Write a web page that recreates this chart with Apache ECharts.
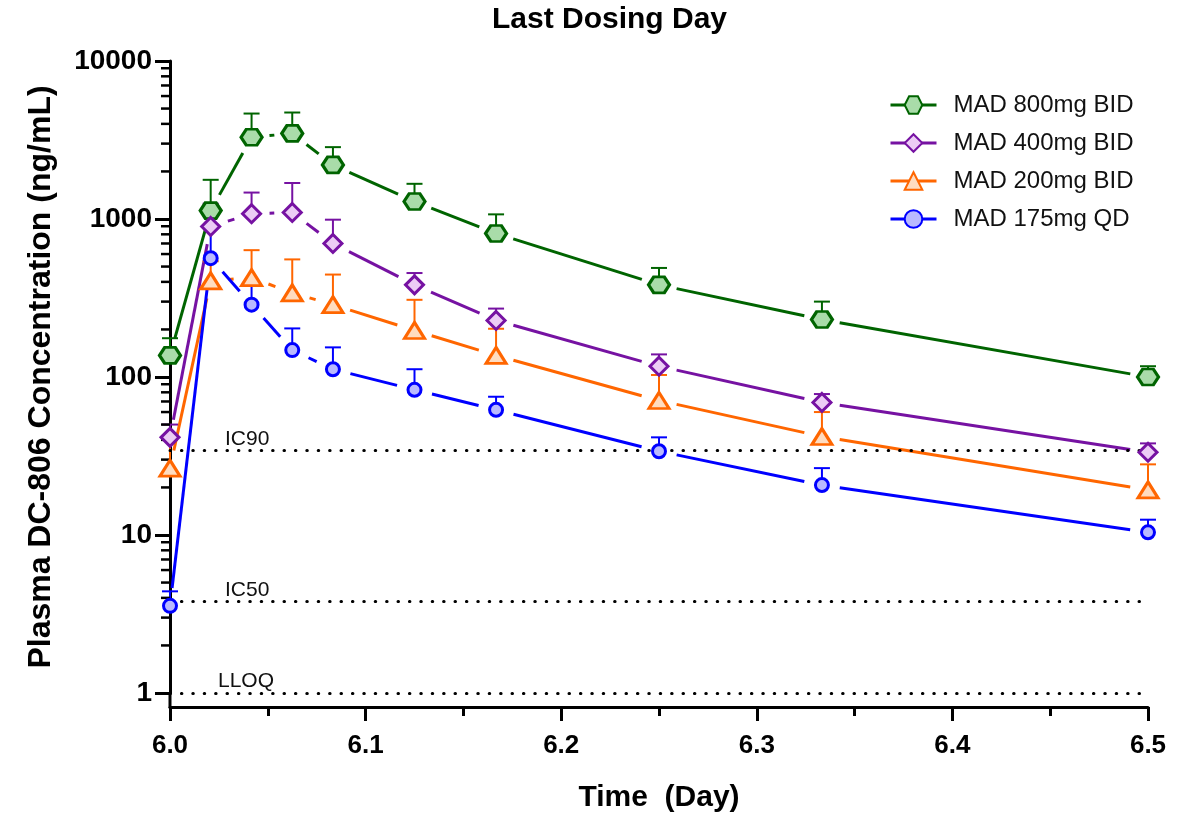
<!DOCTYPE html>
<html>
<head>
<meta charset="utf-8">
<script src="https://cdn.jsdelivr.net/npm/echarts@6/dist/echarts.min.js"></script>
<style>
html, body { margin: 0; padding: 0; background: #fff; }
#main { width: 1191px; height: 818px; }
</style>
</head>
<body>
<div id="main"></div>
<script>
// sampling times (day 6 + hours/24)
var time = [6.0, 6.0208, 6.0417, 6.0625, 6.0833, 6.125, 6.1667, 6.25, 6.3333, 6.5];

// mean concentrations (ng/mL) and upper end of error bars
var mad800    = [137, 1130, 3290, 3480, 2200, 1290, 810, 383, 231, 100];
var mad800Hi  = [176, 1770, 4650, 4720, 2850, 1670, 1070, 490, 300, 117];
var mad400    = [41.5, 897, 1080, 1100, 700, 383, 228, 117, 69, 33.4];
var mad400Hi  = [50, 1250, 1470, 1690, 990, 455, 271, 139, 78, 38];
var mad200    = [26.5, 406, 425, 341, 287, 197, 137, 71, 42, 19.3];
var mad200Hi  = [40, 540, 635, 555, 445, 308, 202, 103, 60, 28];
var mad175    = [3.56, 565, 287, 148, 112, 83, 62, 33.9, 20.7, 10.4];
var mad175Hi  = [4.4, 900, 400, 203, 154, 112, 75, 41.5, 26.5, 12.5];

var seriesNames = ['MAD 800mg BID', 'MAD 400mg BID', 'MAD 200mg BID', 'MAD 175mg QD'];

// reference levels
var refNames  = ['IC90', 'IC50', 'LLOQ'];
var refValues = [34.4, 3.8, 1];

var FONT = '"Liberation Sans", Arial, Helvetica, sans-serif';

var hexagon = 'path://M0,8.66 L5,0 L15,0 L20,8.66 L15,17.32 L5,17.32 Z';

var styles = [
    {line: '#006400', fill: '#a9dca9', symbol: hexagon, size: [21, 16]},
    {line: '#7612a2', fill: '#ecccf5', symbol: 'diamond', size: [18, 18]},
    {line: '#ff6600', fill: '#ffdcc0', symbol: 'triangle', size: [20, 16]},
    {line: '#0000ff', fill: '#b9b9ff', symbol: 'circle', size: 13}
];
var means = [mad800, mad400, mad200, mad175];
var highs = [mad800Hi, mad400Hi, mad200Hi, mad175Hi];

// minor log ticks 2..9 per decade
var minorTicks = [];
[1, 10, 100, 1000].forEach(function (d) {
    for (var k = 2; k <= 9; k++) minorTicks.push([6.0, k * d]);
});

function segRender(color) {
    return function (params, api) {
        var a = api.coord([api.value(0), api.value(1)]);
        var b = api.coord([api.value(2), api.value(3)]);
        var dx = b[0] - a[0], dy = b[1] - a[1];
        var len = Math.sqrt(dx * dx + dy * dy), gap = 18;
        if (len <= 2 * gap + 1) return null;
        var ux = dx / len, uy = dy / len;
        return {
            type: 'line',
            shape: {x1: a[0] + ux * gap, y1: a[1] + uy * gap, x2: b[0] - ux * gap, y2: b[1] - uy * gap},
            style: {stroke: color, lineWidth: 3}
        };
    };
}

function errRender(color) {
    return function (params, api) {
        var a = api.coord([api.value(0), api.value(1)]);
        var b = api.coord([api.value(0), api.value(2)]);
        return {
            type: 'group',
            children: [
                {type: 'line', shape: {x1: a[0], y1: a[1], x2: b[0], y2: b[1]}, style: {stroke: color, lineWidth: 2}},
                {type: 'line', shape: {x1: b[0] - 8, y1: b[1], x2: b[0] + 8, y2: b[1]}, style: {stroke: color, lineWidth: 2}}
            ]
        };
    };
}

var series = [];
var legendData = [];

means.forEach(function (ys, s) {
    var st = styles[s];
    var seg = [], err = [], pts = [];
    for (var i = 0; i < time.length; i++) {
        pts.push([time[i], ys[i]]);
        err.push([time[i], ys[i], highs[s][i]]);
        if (i < time.length - 1) seg.push([time[i], ys[i], time[i + 1], ys[i + 1]]);
    }
    series.push({
        type: 'custom', name: st.line + '-seg', silent: true, z: 2,
        renderItem: segRender(st.line), encode: {x: [0, 2], y: [1, 3]}, data: seg
    });
    series.push({
        type: 'custom', name: st.line + '-err', silent: true, z: 3,
        renderItem: errRender(st.line), encode: {x: 0, y: [1, 2]}, data: err
    });
    var marker = {
        type: 'line', name: seriesNames[s], z: 5 + s,
        data: pts,
        symbol: st.symbol, symbolSize: st.size, showAllSymbol: true,
        itemStyle: {color: st.fill, borderColor: st.line, borderWidth: 3},
        lineStyle: {opacity: 0, width: 0},
        emphasis: {disabled: true}
    };
    if (s === 0) {
        marker.markLine = {
            silent: true, symbol: 'none', animation: false,
            lineStyle: {color: '#000', type: [0.5, 10.9], cap: 'round', width: 3},
            label: {position: 'insideStartTop', fontSize: 21, color: '#111', fontFamily: FONT, formatter: '{b}'},
            emphasis: {disabled: true},
            data: refNames.map(function (n, i) {
                return {name: n, yAxis: refValues[i], label: {distance: [n === 'LLOQ' ? 48 : 55, 1]}};
            })
        };
    }
    series.push(marker);
    legendData.push({
        name: seriesNames[s],
        lineStyle: {color: st.line, width: 3, opacity: 1, type: 'solid'}
    });
});

// minor ticks on the log axis + axis line continued down to the offset x axis
series.push({
    type: 'custom', silent: true, z: 4,
    renderItem: function (params, api) {
        var p = api.coord([api.value(0), api.value(1)]);
        return {type: 'line', shape: {x1: p[0] - 9, y1: p[1], x2: p[0], y2: p[1]}, style: {stroke: '#000', lineWidth: 2.5}};
    },
    encode: {x: 0, y: 1}, data: minorTicks
});
series.push({
    type: 'custom', silent: true, z: 4,
    renderItem: function (params, api) {
        var p = api.coord([api.value(0), api.value(1)]);
        return {type: 'line', shape: {x1: p[0], y1: p[1] - 1, x2: p[0], y2: p[1] + 15}, style: {stroke: '#000', lineWidth: 3}};
    },
    encode: {x: 0, y: 1}, data: [[6.0, 1]]
});

var myChart = echarts.init(document.getElementById('main'));
var option = {
    animation: false,
    backgroundColor: '#fff',
    title: {
        text: 'Last Dosing Day',
        left: 492, top: 5, padding: 0,
        textStyle: {fontSize: 30, fontWeight: 'bold', color: '#000', fontFamily: FONT}
    },
    legend: {
        orient: 'vertical',
        left: 884, top: 88,
        itemWidth: 46, itemHeight: 22, itemGap: 14,
        textStyle: {fontSize: 24, color: '#111', fontFamily: FONT, padding: [0, 0, 0, 12], lineHeight: 22},
        selectedMode: false,
        data: legendData
    },
    grid: {left: 170, right: 43, top: 61, bottom: 119},
    xAxis: {
        type: 'value', min: 6.0, max: 6.5, interval: 0.1,
        offset: 14,
        name: 'Time  (Day)', nameLocation: 'middle', nameGap: 76,
        nameTextStyle: {fontSize: 30, fontWeight: 'bold', color: '#000', fontFamily: FONT},
        axisLine: {lineStyle: {color: '#000', width: 3}},
        axisTick: {length: 14, lineStyle: {width: 3, color: '#000'}},
        minorTick: {show: true, splitNumber: 2, length: 9, lineStyle: {width: 3, color: '#000'}},
        splitLine: {show: false},
        axisLabel: {
            fontSize: 26, fontWeight: 'bold', color: '#000', fontFamily: FONT, margin: 26,
            formatter: function (v) { return v.toFixed(1); }
        }
    },
    yAxis: {
        type: 'log', logBase: 10, min: 1, max: 10000,
        name: 'Plasma DC-806 Concentration (ng/mL)', nameLocation: 'middle', nameGap: 113,
        nameTextStyle: {fontSize: 32, fontWeight: 'bold', color: '#000', fontFamily: FONT},
        axisLine: {show: true, lineStyle: {color: '#000', width: 3}},
        axisTick: {show: true, length: 15, lineStyle: {width: 3, color: '#000'}},
        splitLine: {show: false},
        axisLabel: {
            fontSize: 28, fontWeight: 'bold', color: '#000', fontFamily: FONT, margin: 18,
            formatter: function (v) { return String(Math.round(v)); }
        }
    },
    series: series
};
myChart.setOption(option);
</script>
</body>
</html>
